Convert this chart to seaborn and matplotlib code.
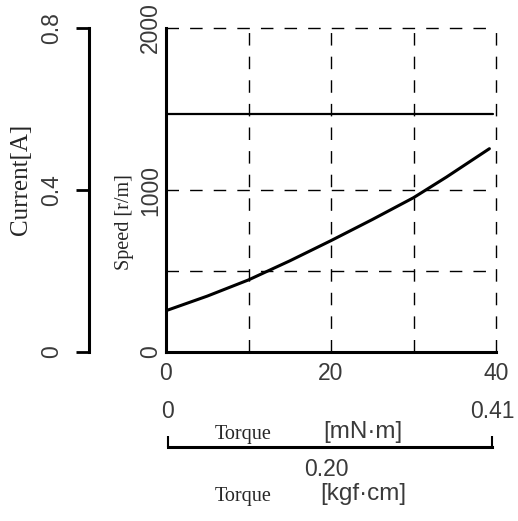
import matplotlib
matplotlib.use("Agg")
import matplotlib.pyplot as plt
import matplotlib.transforms as mtransforms
import numpy as np
import pandas as pd
import seaborn as sns

# data
torque = [0, 5, 10, 15, 20, 25, 30, 34, 39.2]
current = [0.102, 0.138, 0.178, 0.225, 0.275, 0.327, 0.381, 0.432, 0.502]
speed_torque = [0, 39.6]
speed = [1470, 1470]

speed_ticks = [0, 500, 1000, 2000]
speed_ticklabels = ["0", "", "1000", "2000"]
torque_ticks = [0, 10, 20, 30, 40]
torque_ticklabels = ["0", "", "20", "", "40"]
current_ticks = [0, 0.4, 0.8]
current_ticklabels = ["0", "0.4", "0.8"]
kgf_ticks = [0, 0.41]
kgf_ticklabels = ["0", "0.41"]
kgf_mid = 0.20

sns.set_style("white")
plt.rcParams['font.family'] = ['Liberation Sans', 'DejaVu Sans']
SERIF = ['Liberation Serif', 'DejaVu Serif']
TICK_COLOR = '#3a3a3a'
TS = 16.5

W, H = 518, 521
fig = plt.figure(figsize=(W / 100, H / 100), dpi=100)


def px(x0, y0, x1, y1):
    # pixel box (top-left origin) -> figure fraction rect
    return [x0 / W, 1 - y1 / H, (x1 - x0) / W, (y1 - y0) / H]


dash = (0, (9, 8))

# main speed axes
ax = fig.add_axes(px(166, 28, 496, 352))
df_speed = pd.DataFrame({"torque": speed_torque, "speed": speed})
sns.lineplot(data=df_speed, x="torque", y="speed", ax=ax, color="black", lw=1.6)
ax.set_xlim(0, 40)
ax.set_ylim(0, 2000)
ax.set_xticks(torque_ticks)
ax.set_xticklabels(torque_ticklabels)
ax.set_yticks(speed_ticks)
ax.set_yticklabels(speed_ticklabels, rotation=90, va="center")
ax.grid(True, color="black", lw=1.0, linestyle=dash)
ax.set_axisbelow(True)
for g in ax.get_xgridlines() + ax.get_ygridlines():
    g.set_clip_on(False)
ax.spines[["top", "right"]].set_visible(False)
for s in ["left", "bottom"]:
    ax.spines[s].set_linewidth(2.2)
    ax.spines[s].set_color("black")
ax.tick_params(axis="x", length=0, pad=7, labelsize=TS, labelcolor=TICK_COLOR)
ax.tick_params(axis="y", length=0, pad=3, labelsize=TS, labelcolor=TICK_COLOR)
ax.set_xlabel("")
ax.set_ylabel("")

# current curve drawn against current scale
axc = ax.twinx()
df_cur = pd.DataFrame({"torque": torque, "current": current})
sns.lineplot(data=df_cur, x="torque", y="current", ax=axc, color="black", lw=2.2)
axc.set_ylim(0, 0.8)
axc.set_xlim(0, 40)
axc.axis("off")

# separate current scale on the far left
axl = fig.add_axes(px(89, 28, 89.5, 352))
axl.set_ylim(0, 0.8)
axl.set_yticks(current_ticks)
axl.set_yticklabels(current_ticklabels, rotation=90, va="center")
axl.set_xticks([])
axl.spines[["top", "right", "bottom"]].set_visible(False)
axl.spines["left"].set_linewidth(2.2)
axl.spines["left"].set_color("black")
axl.patch.set_visible(False)
axl.tick_params(axis="y", left=True, right=False, direction="out", length=9.5,
                width=2, pad=9, labelsize=TS, labelcolor=TICK_COLOR, color="black")

# kgf.cm scale under the chart
axk = fig.add_axes(px(168, 446.5, 492, 447))
axk.set_xlim(0, 0.41)
axk.set_xticks(kgf_ticks)
axk.set_xticklabels(kgf_ticklabels)
axk.set_yticks([])
axk.spines[["top", "right", "left"]].set_visible(False)
axk.spines["bottom"].set_linewidth(2.2)
axk.spines["bottom"].set_color("black")
axk.patch.set_visible(False)
axk.tick_params(axis="x", direction="in", length=8, width=1.5, bottom=True, top=False,
                labelbottom=False, labeltop=True, pad=17, labelsize=TS,
                labelcolor=TICK_COLOR, color="black")
trans = mtransforms.blended_transform_factory(axk.transData, fig.transFigure)
axk.text(kgf_mid, 1 - 470 / H, f"{kgf_mid:.2f}", transform=trans, ha="center",
         va="center", fontsize=TS, color=TICK_COLOR)

# labels
fig.text(21 / W, 1 - 179 / H, "Current[A]", rotation=90, ha="center", va="center",
         family=SERIF, fontsize=18)
fig.text(124 / W, 1 - 222 / H, "Speed [r/m]", rotation=90, ha="center", va="center",
         family=SERIF, fontsize=14.5)
fig.text(243 / W, 1 - 435 / H, "Torque", ha="center", va="center", family=SERIF,
         fontsize=14.5)
fig.text(363 / W, 1 - 432 / H, "[mN\u00b7m]", ha="center", va="center",
         fontsize=17.5, color=TICK_COLOR)
fig.text(243 / W, 1 - 497 / H, "Torque", ha="center", va="center", family=SERIF,
         fontsize=14.5)
fig.text(363 / W, 1 - 494 / H, "[kgf\u00b7cm]", ha="center", va="center",
         fontsize=17.5, color=TICK_COLOR)

fig.savefig("out.png", dpi=100, facecolor="white")
